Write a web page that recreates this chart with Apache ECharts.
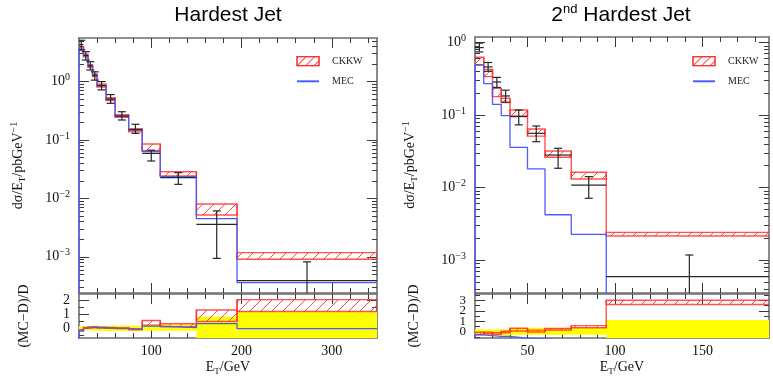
<!DOCTYPE html>
<html>
<head>
<meta charset="utf-8">
<script src="https://cdn.jsdelivr.net/npm/echarts@6/dist/echarts.min.js"></script>
<style>
  html, body { margin: 0; padding: 0; background: #fff; }
  #chart { width: 773px; height: 377px; }
</style>
</head>
<body>
<div id="chart"></div>
<script>
// ---- Hardest jet (left) : bin edges in GeV, values in pb/GeV ----
const edgesHard = [20, 25, 30, 35, 40, 50, 60, 75, 90, 110, 150, 195, 350];
const dataHard = [4.3, 2.8, 1.87, 1.28, 0.85, 0.50, 0.258, 0.150, 0.059, 0.0226, 0.0036, 0.00039];
const dataHardUp = [5.1, 3.25, 2.19, 1.47, 1.0, 0.60, 0.305, 0.186, 0.067, 0.0276, 0.0061, 0.00082];
const dataHardDown = [3.5, 2.34, 1.58, 1.06, 0.72, 0.425, 0.22, 0.13, 0.0437, 0.0174, 0.00094, 0.00001];
const ckkwHardUp = [3.9, 2.95, 1.95, 1.35, 0.90, 0.53, 0.272, 0.156, 0.0855, 0.0286, 0.0080, 0.00118];
const ckkwHardDown = [3.4, 2.65, 1.75, 1.22, 0.81, 0.475, 0.245, 0.138, 0.0656, 0.0242, 0.0052, 0.00091];
const mecHard = [3.6, 2.8, 1.85, 1.28, 0.86, 0.50, 0.255, 0.148, 0.063, 0.0235, 0.00449, 0.00036];
// (MC-D)/D
const ratioCkkwHardUp = [-0.1, 0.06, 0.1, 0.12, 0.08, 0.06, 0.04, -0.04, 0.56, 0.33, 1.31, 2.05];
const ratioCkkwHardDown = [-0.2, 0.0, 0.04, 0.06, 0.02, 0.0, -0.02, -0.1, 0.23, 0.11, 0.49, 1.2];
const ratioMecHard = [-0.17, 0.02, 0.05, 0.07, 0.04, 0.02, 0.0, -0.08, 0.16, 0.05, 0.33, -0.02];
const bandHardUp = [0.15, 0.15, 0.17, 0.17, 0.18, 0.2, 0.2, 0.2, 0.27, 0.27, 0.83, 1.2];
const bandHardDown = [-0.15, -0.15, -0.17, -0.17, -0.18, -0.2, -0.2, -0.2, -0.17, -0.17, -0.8, -0.8];

// ---- 2nd hardest jet (right) ----
const edgesSecond = [20, 25, 30, 35, 40, 50, 60, 75, 95, 190];
const dataSecond = [0.85, 0.46, 0.285, 0.183, 0.095, 0.0558, 0.028, 0.0108, 0.00059];
const dataSecondUp = [0.98, 0.53, 0.33, 0.22, 0.117, 0.0705, 0.0347, 0.0141, 0.00117];
const dataSecondDown = [0.74, 0.40, 0.24, 0.15, 0.073, 0.0428, 0.0184, 0.0071, 0.000001];
const ckkwSecondUp = [0.625, 0.426, 0.233, 0.17, 0.117, 0.064, 0.0318, 0.0162, 0.0024];
const ckkwSecondDown = [0.49, 0.338, 0.179, 0.148, 0.097, 0.051, 0.0261, 0.0131, 0.00214];
const mecSecond = [0.49, 0.27, 0.14, 0.098, 0.0358, 0.018, 0.0042, 0.00226, 0.000001];
const ratioCkkwSecondUp = [-0.05, -0.05, -0.1, 0.05, 0.33, 0.15, 0.3, 0.58, 3.0];
const ratioCkkwSecondDown = [-0.27, -0.2, -0.25, -0.1, 0.07, -0.03, 0.15, 0.38, 2.6];
const ratioMecSecond = [-0.3, -0.38, -0.45, -0.45, -0.62, -0.68, -0.85, -0.79, -1];
const bandSecondUp = [0.22, 0.22, 0.22, 0.22, 0.37, 0.37, 0.37, 0.43, 1.12];
const bandSecondDown = [-0.37, -0.37, -0.37, -0.37, -0.3, -0.3, -0.3, -0.3, -1];

// tick positions
const logMajors = [0.001, 0.01, 0.1, 1];
const xMajorsHard = [100, 200, 300];
const xMinorsHard = [40, 60, 80, 120, 140, 160, 180, 220, 240, 260, 280, 320, 340];
const xMajorsSecond = [50, 100, 150];
const xMinorsSecond = [30, 40, 60, 70, 80, 90, 110, 120, 130, 140, 160, 170, 180];
const ratioLabelsHard = [0, 1, 2];
const ratioLabelsSecondA = [0, 2];
const ratioLabelsSecondB = [1, 3];

const SERIF = '"Liberation Serif", "DejaVu Serif", serif';
const RED = 'rgba(255, 40, 40, 0.8)';
const BLUE = '#4a5cff';

function logMinors(min, max) {
  const out = [];
  for (let e = -5; e <= 1; e++) {
    for (let m = 2; m <= 9; m++) {
      const v = m * Math.pow(10, e);
      if (v > min && v < max) out.push(v);
    }
  }
  return out;
}

// four axes per grid side: major + minor ticks, near and far edge
function frameAxes(dim, grid, type, min, max, majors, minors, label, name, minorLabel) {
  const near = dim === 'x' ? 'bottom' : 'left';
  const far = dim === 'x' ? 'top' : 'right';
  const mk = (pos, ticks, len, line, lab, nm) => Object.assign({
    type: type, gridIndex: grid, min: min, max: max, position: pos,
    axisLine: line ? { show: true, onZero: false, lineStyle: { color: '#6e6e6e', width: 1.6 } } : { show: false, onZero: false },
    axisTick: { show: true, inside: true, length: len, customValues: ticks, lineStyle: { color: '#3a3a3a', width: 1 } },
    axisLabel: lab || { show: false },
    splitLine: { show: false },
    minorTick: { show: false },
    silent: true
  }, nm || {});
  return [
    mk(near, majors, 10, true, label, name),
    mk(near, minors, 5, false, minorLabel),
    mk(far, majors, 10, true),
    mk(far, minors, 5, false)
  ];
}

const supRich = {
  b: { fontFamily: SERIF, fontSize: 14, color: '#111', lineHeight: 18 },
  s: { fontFamily: SERIF, fontSize: 10, color: '#111', verticalAlign: 'top', lineHeight: 12 }
};
const logLabel = {
  show: true, customValues: logMajors, margin: 9, interval: 0, showMinLabel: true, showMaxLabel: true,
  formatter: v => '{b|10}{s|' + String(Math.round(Math.log10(v))).replace('-', '\u2212') + '}',
  rich: supRich
};
const numLabel = (vals, size) => ({ show: true, customValues: vals, margin: 9, interval: 0, showMinLabel: true, showMaxLabel: true,
  fontFamily: SERIF, fontSize: size, color: '#111' });
const xLabel = vals => ({ show: true, customValues: vals, margin: 6, interval: 0, fontFamily: SERIF, fontSize: 14, color: '#111' });

const nameRich = {
  a: { fontFamily: SERIF, fontSize: 14, color: '#111', lineHeight: 18 },
  sub: { fontFamily: SERIF, fontSize: 9, color: '#111', verticalAlign: 'bottom', lineHeight: 14 },
  sup: { fontFamily: SERIF, fontSize: 10, color: '#111', verticalAlign: 'top', lineHeight: 12 }
};
const yMainName = gap => ({
  name: '{a|d\u03c3/E}{sub|T}{a|/pbGeV}{sup|\u22121}', nameLocation: 'middle', nameGap: gap,
  nameTextStyle: { rich: nameRich }
});
const yRatioName = gap => ({
  name: '(MC\u2212D)/D', nameLocation: 'middle', nameGap: gap,
  nameTextStyle: { fontFamily: SERIF, fontSize: 14, color: '#111' }
});
const xName = {
  name: '{a|E}{sub|T}{a|/GeV}', nameLocation: 'middle', nameGap: 20,
  nameTextStyle: { rich: nameRich }
};

const hardMin = 2.4e-4, hardMax = 5.58;
const secMin = 3.5e-4, secMax = 1.19;

const xAxes = [].concat(
  frameAxes('x', 0, 'value', 20, 350, xMajorsHard, xMinorsHard),
  frameAxes('x', 1, 'value', 20, 350, xMajorsHard, xMinorsHard, xLabel(xMajorsHard), xName),
  frameAxes('x', 2, 'value', 20, 188, xMajorsSecond, xMinorsSecond),
  frameAxes('x', 3, 'value', 20, 188, xMajorsSecond, xMinorsSecond, xLabel(xMajorsSecond), xName)
);
const yAxes = [].concat(
  frameAxes('y', 0, 'log', hardMin, hardMax, logMajors, logMinors(hardMin, hardMax), logLabel, yMainName(52)),
  frameAxes('y', 1, 'value', -0.69, 2.45, [0, 1, 2], [-0.5, 0.5, 1.5], numLabel(ratioLabelsHard, 14), yRatioName(48)),
  frameAxes('y', 2, 'log', secMin, secMax, logMajors, logMinors(secMin, secMax), logLabel, yMainName(56)),
  frameAxes('y', 3, 'value', -0.6, 3.6, [0, 1, 2, 3], [-0.5, 0.5, 1.5, 2.5, 3.5], numLabel(ratioLabelsSecondA, 13), yRatioName(54),
    numLabel(ratioLabelsSecondB, 13))
);

// ---- renderers ----
function hatchBox(params, api) {
  const x0 = api.value(0), x1 = api.value(1), lo = api.value(2), hi = api.value(3);
  const pl = api.value(4), ph = api.value(5);
  const a = api.coord([x0, hi]), b = api.coord([x1, lo]);
  const left = a[0], right = b[0], top = a[1], bot = b[1];
  const children = [];
  const step = 11;
  for (let c = Math.floor((left + top) / step) * step; c <= right + bot; c += step) {
    const xa = Math.max(left, c - bot), xb = Math.min(right, c - top);
    if (xb > xa) {
      children.push({ type: 'line', shape: { x1: xa, y1: c - xa, x2: xb, y2: c - xb }, style: { stroke: '#ff4545', lineWidth: 1 } });
    }
  }
  children.push({ type: 'rect', shape: { x: left, y: top, width: right - left, height: bot - top },
    style: { fill: 'none', stroke: RED, lineWidth: 1.4 } });
  if (params.dataIndex > 0) {
    const e = api.coord([x0, Math.max(hi, ph)]), f = api.coord([x0, Math.min(lo, pl)]);
    children.push({ type: 'line', shape: { x1: e[0], y1: e[1], x2: f[0], y2: f[1] }, style: { stroke: RED, lineWidth: 1.4 } });
  }
  return { type: 'group', children: children };
}

function dataBars(params, api) {
  const x0 = api.value(0), x1 = api.value(1), v = api.value(2), up = api.value(3), dn = api.value(4);
  const l = api.coord([x0, v]), r = api.coord([x1, v]);
  const xc = (l[0] + r[0]) / 2;
  const t = api.coord([x0, up])[1], b = api.coord([x0, dn])[1];
  const cap = 4;
  const st = { stroke: '#262626', lineWidth: 1.2 };
  const seg = (xa, ya, xb, yb) => ({ type: 'line', shape: { x1: xa, y1: ya, x2: xb, y2: yb }, style: st });
  return { type: 'group', children: [
    seg(l[0], l[1], r[0], r[1]), seg(xc, t, xc, b), seg(xc - cap, t, xc + cap, t), seg(xc - cap, b, xc + cap, b)
  ] };
}

function bandRect(params, api) {
  const a = api.coord([api.value(0), api.value(3)]), b = api.coord([api.value(1), api.value(2)]);
  return { type: 'rect', shape: { x: a[0], y: a[1], width: b[0] - a[0], height: b[1] - a[1] },
    style: { fill: '#ffff00', stroke: null } };
}

// ---- build series data from the arrays ----
const boxItems = (edges, lo, hi) => lo.map((v, i) => [edges[i], edges[i + 1], v, hi[i], lo[Math.max(i - 1, 0)], hi[Math.max(i - 1, 0)]]);
const dataItems = (edges, v, up, dn) => v.map((d, i) => [edges[i], edges[i + 1], d, up[i], dn[i]]);
const bandItems = (edges, lo, hi) => lo.map((v, i) => [edges[i], edges[i + 1], v, hi[i]]);
const stepPoints = (edges, vals, floor) => [[edges[0], floor]].concat(vals.map((v, i) => [edges[i], v]), [[edges[edges.length - 1], vals[vals.length - 1]]]);

function panelSeries(g, edges, d, dUp, dDn, cUp, cDn, mec, rcUp, rcDn, rMec, bUp, bDn, floor) {
  const main = g * 2, ratio = g * 2 + 1;
  return [
    { type: 'custom', name: 'CKKW', xAxisIndex: main * 4, yAxisIndex: main * 4, clip: true, silent: true,
      itemStyle: { color: '#ff4545' }, renderItem: hatchBox, data: boxItems(edges, cDn, cUp), z: 3 },
    { type: 'line', name: 'MEC', xAxisIndex: main * 4, yAxisIndex: main * 4, step: 'end', symbol: 'none', clip: true, silent: true,
      lineStyle: { color: BLUE, width: 1.3 }, itemStyle: { color: BLUE }, data: stepPoints(edges, mec, floor), z: 4 },
    { type: 'custom', name: 'data', xAxisIndex: main * 4, yAxisIndex: main * 4, clip: true, silent: true,
      renderItem: dataBars, data: dataItems(edges, d, dUp, dDn), z: 5 },
    { type: 'custom', name: 'band', xAxisIndex: ratio * 4, yAxisIndex: ratio * 4, clip: true, silent: true,
      renderItem: bandRect, data: bandItems(edges, bDn, bUp), z: 1 },
    { type: 'custom', name: 'CKKW ratio', xAxisIndex: ratio * 4, yAxisIndex: ratio * 4, clip: true, silent: true,
      renderItem: hatchBox, data: boxItems(edges, rcDn, rcUp), z: 3 },
    { type: 'line', name: 'MEC ratio', xAxisIndex: ratio * 4, yAxisIndex: ratio * 4, step: 'end', symbol: 'none', clip: true, silent: true,
      lineStyle: { color: BLUE, width: 1.3 }, data: stepPoints(edges, rMec, -5), z: 4 }
  ];
}

const series = [].concat(
  panelSeries(0, edgesHard, dataHard, dataHardUp, dataHardDown, ckkwHardUp, ckkwHardDown, mecHard,
    ratioCkkwHardUp, ratioCkkwHardDown, ratioMecHard, bandHardUp, bandHardDown, 1e-9),
  panelSeries(1, edgesSecond, dataSecond, dataSecondUp, dataSecondDown, ckkwSecondUp, ckkwSecondDown, mecSecond,
    ratioCkkwSecondUp, ratioCkkwSecondDown, ratioMecSecond, bandSecondUp, bandSecondDown, 1e-9)
);

const legendBase = {
  orient: 'vertical', top: 51, itemWidth: 22, itemHeight: 9, itemGap: 10, selectedMode: false,
  textStyle: { fontFamily: SERIF, fontSize: 10, color: '#222', padding: [0, 0, 0, 8] },
  data: [
    { name: 'CKKW', icon: 'rect', itemStyle: { color: '#fff', borderColor: RED, borderWidth: 1.3,
      decal: { symbol: 'rect', symbolSize: 1, dashArrayX: [1, 0], dashArrayY: [1, 5], rotation: -Math.PI / 4, color: '#ff4545' } } },
    { name: 'MEC', itemStyle: { opacity: 0 } }
  ]
};

const chart = echarts.init(document.getElementById('chart'), null, { renderer: 'canvas' });
chart.setOption({
  animation: false,
  backgroundColor: '#fff',
  grid: [
    { left: 79, top: 38, width: 298, height: 255 },
    { left: 79, top: 294, width: 298, height: 47 },
    { left: 475, top: 37, width: 294, height: 256 },
    { left: 475, top: 294, width: 294, height: 47 }
  ],
  xAxis: xAxes,
  yAxis: yAxes,
  legend: [
    Object.assign({}, legendBase, { left: 291 }),
    Object.assign({}, legendBase, { left: 687 })
  ],
  graphic: [
    { type: 'text', x: 228, y: 15, style: { text: 'Hardest Jet', fontFamily: '"Liberation Sans", Arial, sans-serif', fontSize: 21,
      fill: '#000', align: 'center', verticalAlign: 'middle', textAlign: 'center', textVerticalAlign: 'middle' } },
    { type: 'text', x: 621, y: 15, style: { text: '{a|2}{s|nd}{a| Hardest Jet}', fill: '#000',
      rich: { a: { fontFamily: '"Liberation Sans", Arial, sans-serif', fontSize: 21, lineHeight: 24 },
              s: { fontFamily: '"Liberation Sans", Arial, sans-serif', fontSize: 13, verticalAlign: 'top', lineHeight: 14 } },
      align: 'center', verticalAlign: 'middle', textAlign: 'center', textVerticalAlign: 'middle' } }
  ],
  series: series
});
</script>
</body>
</html>
